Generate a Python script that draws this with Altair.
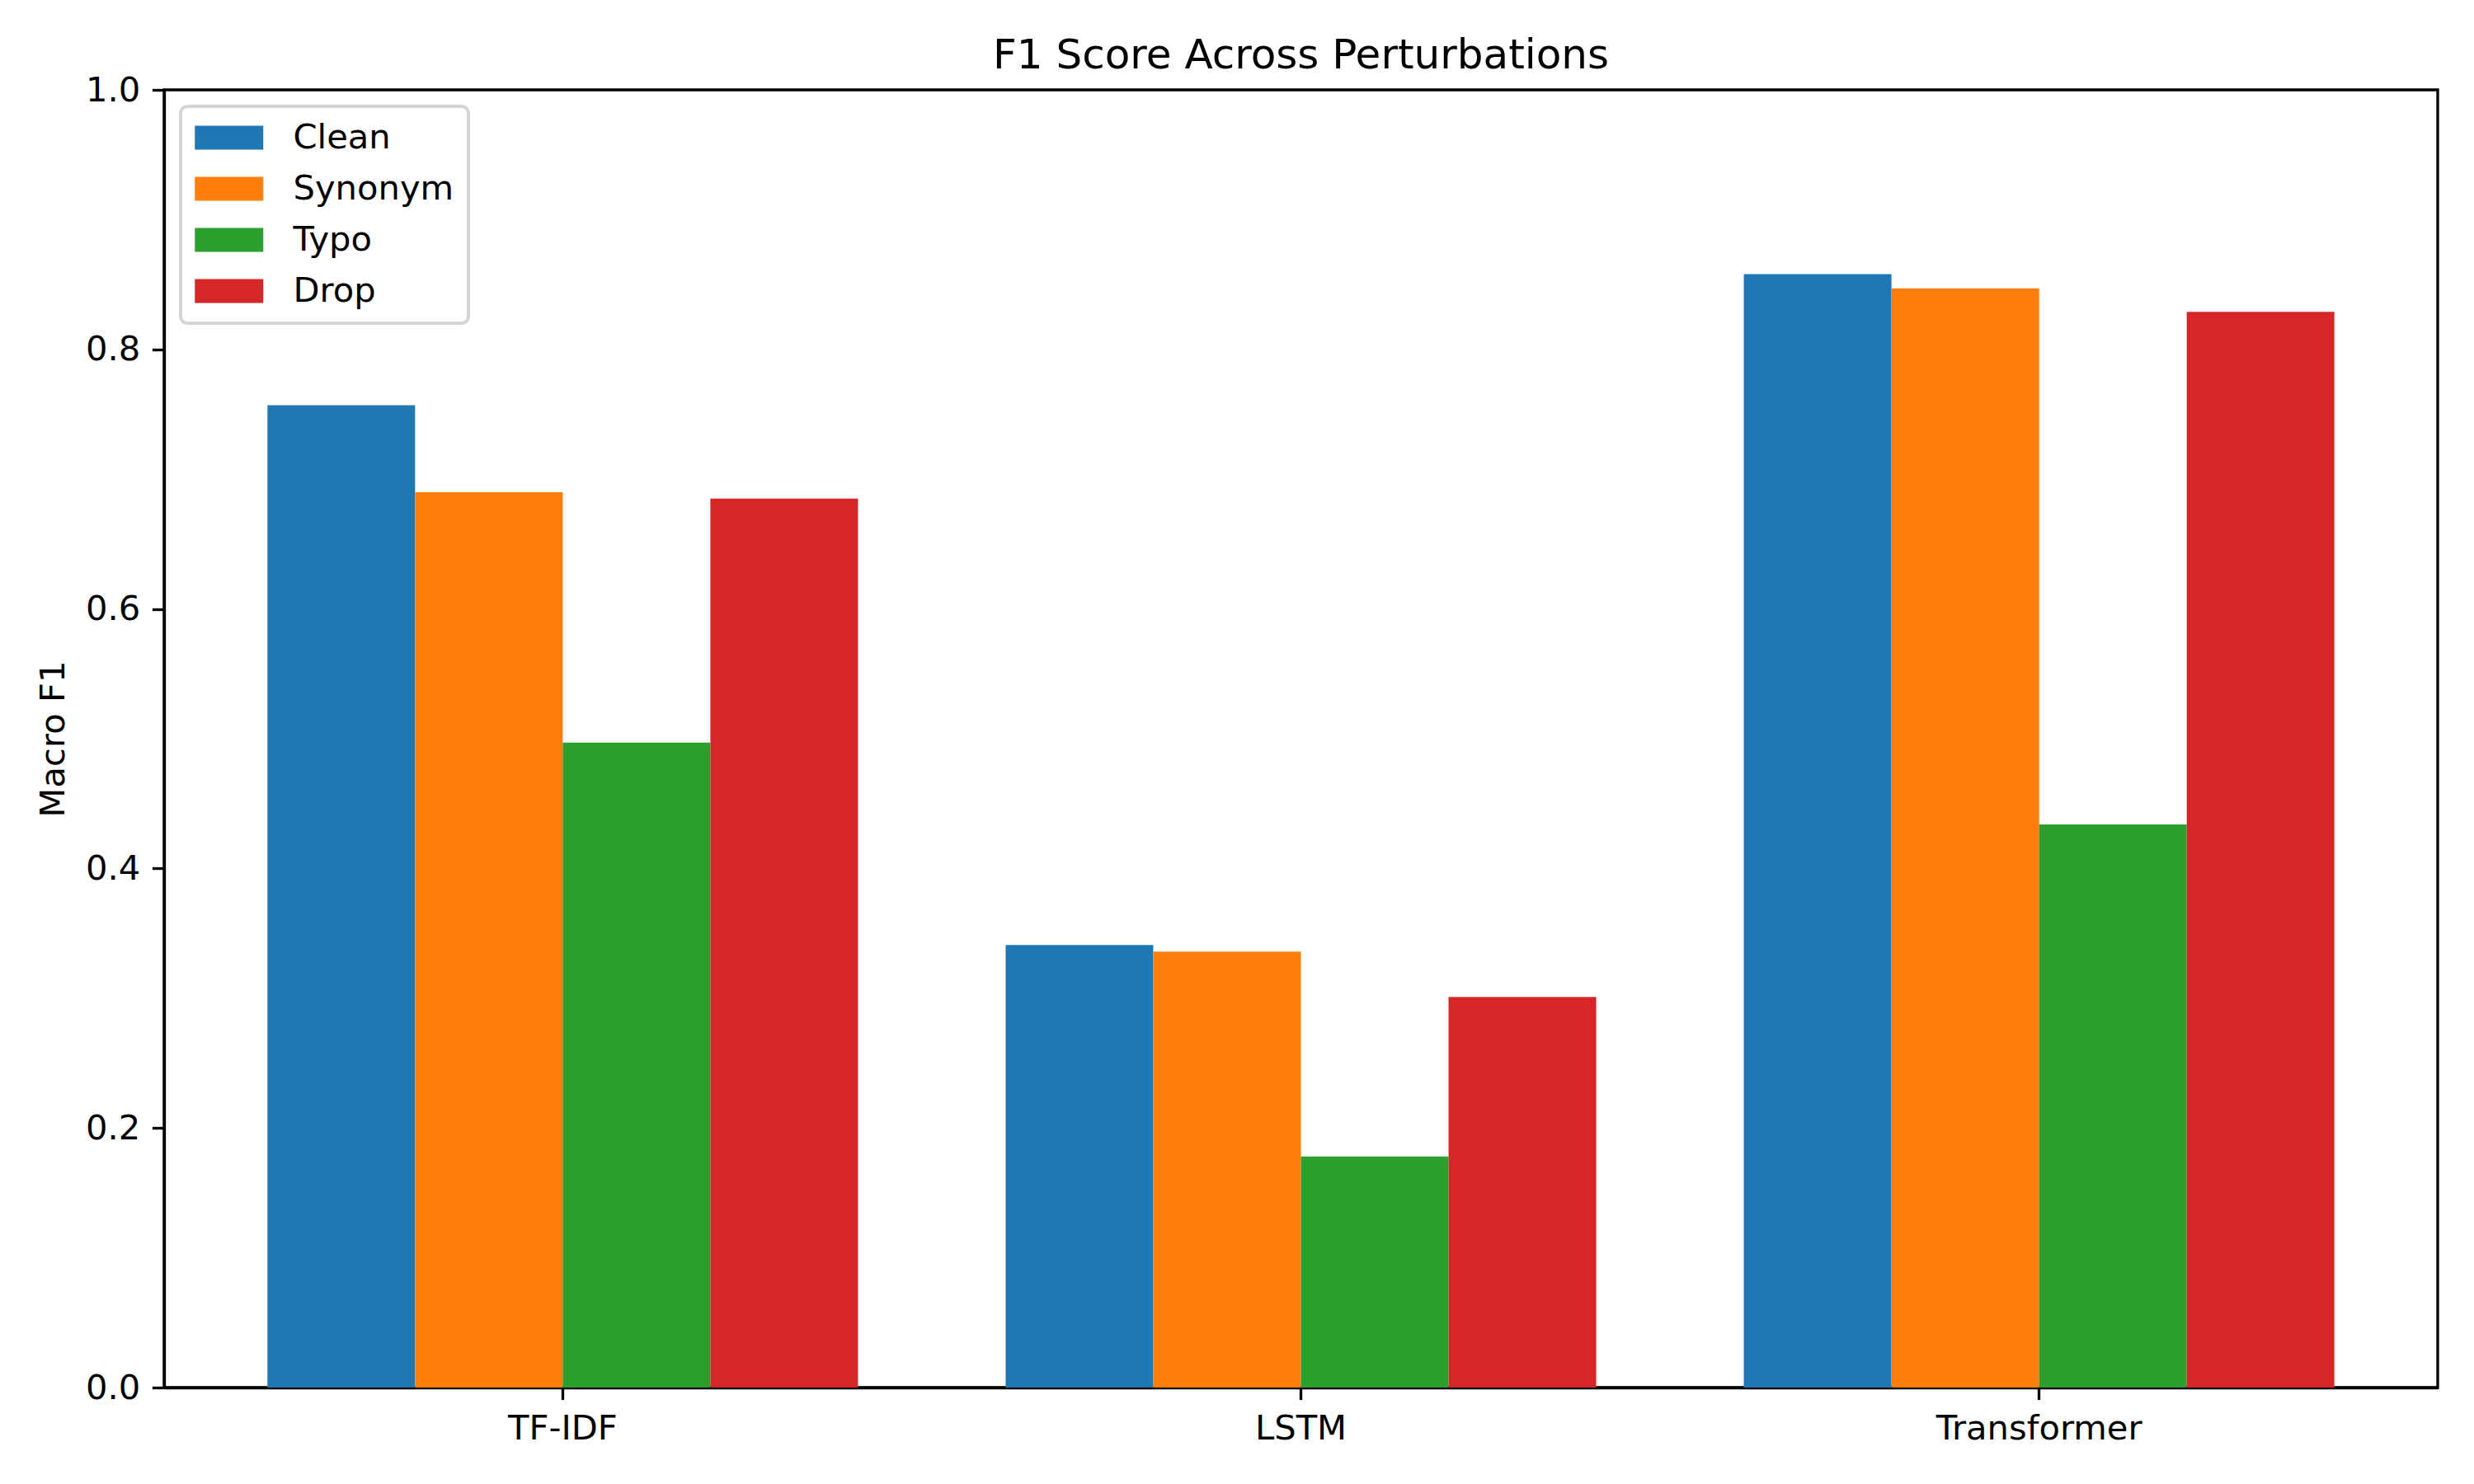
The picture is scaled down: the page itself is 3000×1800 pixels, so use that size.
import altair as alt
import pandas as pd

# Macro F1 per model under each text perturbation
models = ["TF-IDF", "LSTM", "Transformer"]
perturbations = ["Clean", "Synonym", "Typo", "Drop"]
clean = [0.757, 0.341, 0.858]
synonym = [0.690, 0.336, 0.847]
typo = [0.497, 0.178, 0.434]
drop = [0.685, 0.301, 0.829]
y_ticks = [0.0, 0.2, 0.4, 0.6, 0.8, 1.0]
palette = ["#1f77b4", "#ff7f0e", "#2ca02c", "#d62728"]

rows = []
for name, vals in zip(perturbations, [clean, synonym, typo, drop]):
    for model, v in zip(models, vals):
        rows.append({"Model": model, "Perturbation": name, "F1": v})
df = pd.DataFrame(rows)

FONT = "DejaVu Sans"
PT = 300 / 72  # pixels per point at 300 dpi
FS = 10 * PT
LW = 0.8 * PT

# rectangular legend swatch; path units are scaled by sqrt(size)/2,
# so a 41.5px nominal symbol gives an 83 x 29 px patch
SWATCH_NOMINAL = 41.5
swatch = "M-2,-0.7L2,-0.7L2,0.7L-2,0.7Z"

chart = (
    alt.Chart(df)
    .mark_bar()
    .encode(
        x=alt.X(
            "Model:N",
            sort=models,
            scale=alt.Scale(paddingInner=0.2, paddingOuter=0.14),
            axis=alt.Axis(title=None, labelAngle=0, labelPadding=15,
                          labelLimit=800),
        ),
        xOffset=alt.XOffset(
            "Perturbation:N",
            sort=perturbations,
            scale=alt.Scale(paddingInner=0, paddingOuter=0),
        ),
        y=alt.Y(
            "F1:Q",
            scale=alt.Scale(domain=[0, 1], nice=False, zero=True),
            axis=alt.Axis(title="Macro F1", values=y_ticks, format=".1f",
                          titlePadding=17),
        ),
        color=alt.Color(
            "Perturbation:N",
            sort=perturbations,
            scale=alt.Scale(domain=perturbations, range=palette),
            legend=alt.Legend(
                title=None,
                orient="none",
                legendX=20,
                legendY=20,
                symbolType=swatch,
                symbolSize=SWATCH_NOMINAL ** 2,
                symbolOffset=SWATCH_NOMINAL / 2,
                symbolStrokeWidth=0,
                symbolOpacity=1,
                labelFontSize=FS,
                labelFont=FONT,
                labelColor="black",
                labelLimit=600,
                labelOffset=36 + SWATCH_NOMINAL / 2,
                padding=17,
                rowPadding=19,
                strokeColor="#d5d5d5",
                fillColor="white",
            ),
        ),
    )
    .properties(
        width=2757,
        height=1574,
        background="white",
        title=alt.TitleParams(
            "F1 Score Across Perturbations",
            fontSize=12 * PT,
            font=FONT,
            fontWeight="normal",
            color="black",
            baseline="alphabetic",
            offset=-44,
            frame="group",
            anchor="middle",
        ),
        autosize="none",
        padding={"left": 199, "top": 109, "right": 44, "bottom": 117},
    )
    .configure_view(stroke="black", strokeWidth=LW)
    .configure_legend(strokeWidth=4, cornerRadius=8)
    .configure_axis(
        grid=False,
        domainColor="black",
        domainWidth=LW,
        tickColor="black",
        tickWidth=LW,
        tickSize=3.5 * PT,
        labelFont=FONT,
        labelFontSize=FS,
        labelColor="black",
        labelPadding=3.5 * PT,
        titleFont=FONT,
        titleFontSize=FS,
        titleFontWeight="normal",
        titleColor="black",
    )
)

chart.save("out.html", embed_options={"renderer": "svg", "actions": False})
